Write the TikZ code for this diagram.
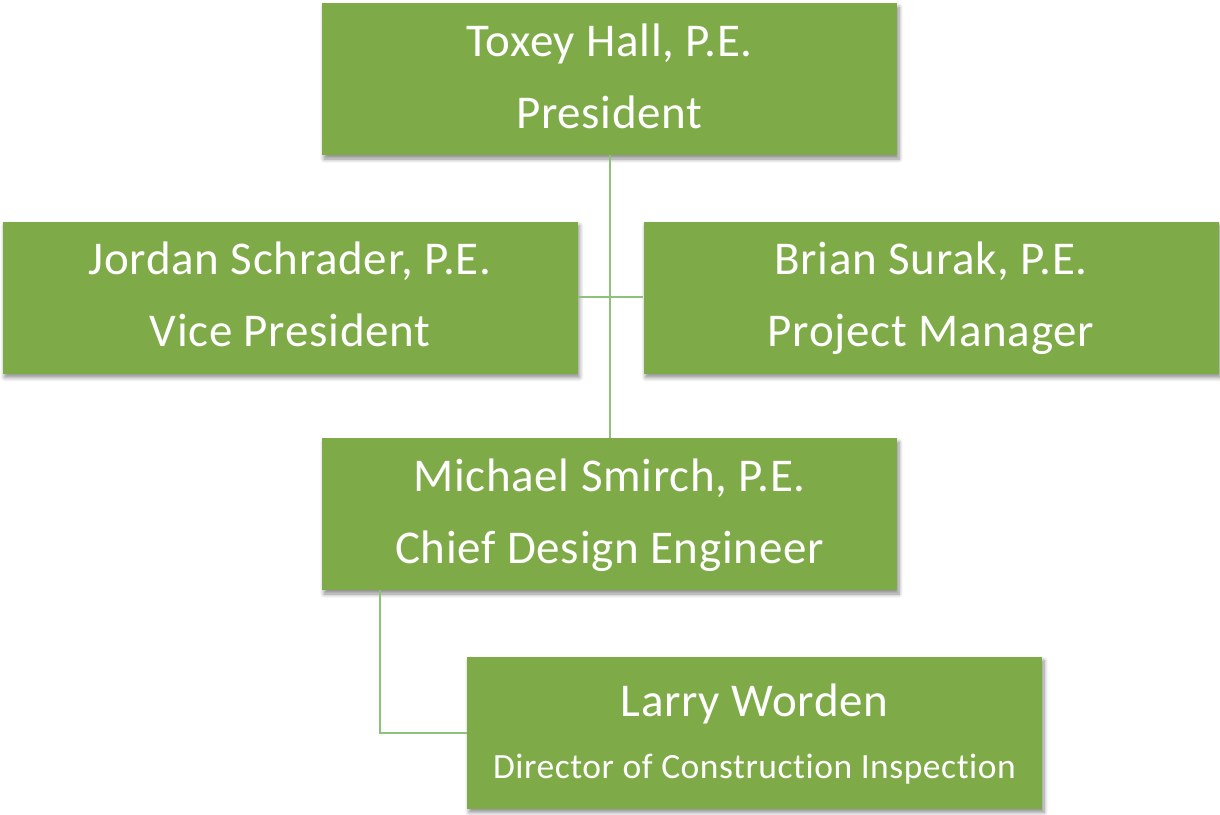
\documentclass[tikz,border=0pt]{standalone}
\usepackage{fontspec}
\setmainfont{Carlito}[Ligatures={NoCommon}, RawFeature={-liga}, LetterSpace=1.5]
\usetikzlibrary{shadows.blur}
\definecolor{boxgreen}{HTML}{7EAB47}
\definecolor{linegreen}{HTML}{8CC27A}
\begin{document}
\begin{tikzpicture}[x=1pt,y=-1pt,
  box/.style={fill=boxgreen, draw=none, minimum width=575pt, minimum height=152pt,
    text=white, align=center, inner sep=0pt, text height=98pt, text depth=0pt,
    blur shadow={shadow blur steps=6, shadow xshift=2pt, shadow yshift=-4pt, shadow blur radius=4pt, shadow opacity=45},
    font=\fontsize{47}{72}\selectfont},
  conn/.style={draw=linegreen, line width=1.3pt}]
\useasboundingbox (0,0) rectangle (1220,814);
\node[box] (pres) at (609.5,79) {Toxey Hall, P.E.\\President};
\node[box] (vp) at (290,297.5) {Jordan Schrader, P.E.\\Vice President};
\node[box] (pm) at (931,297.5) {Brian Surak, P.E.\\Project Manager};
\node[box] (cde) at (609.5,514) {Michael Smirch, P.E.\\Chief Design Engineer};
\node[box, text height=91pt, text depth=0pt, font=\fontsize{47}{62}\selectfont] (dir) at (754.5,732.5) {Larry Worden\\\fontsize{35.5}{62}\selectfont Director of Construction Inspection};
\coordinate (j) at (610,297);
\coordinate (k) at (380,733);
\draw[conn] (pres.south -| j) -- (cde.north -| j);
\draw[conn] (vp.east |- j) -- (pm.west |- j);
\draw[conn] (cde.south -| k) -- (k) -- (dir.west |- k);
\end{tikzpicture}
\end{document}
